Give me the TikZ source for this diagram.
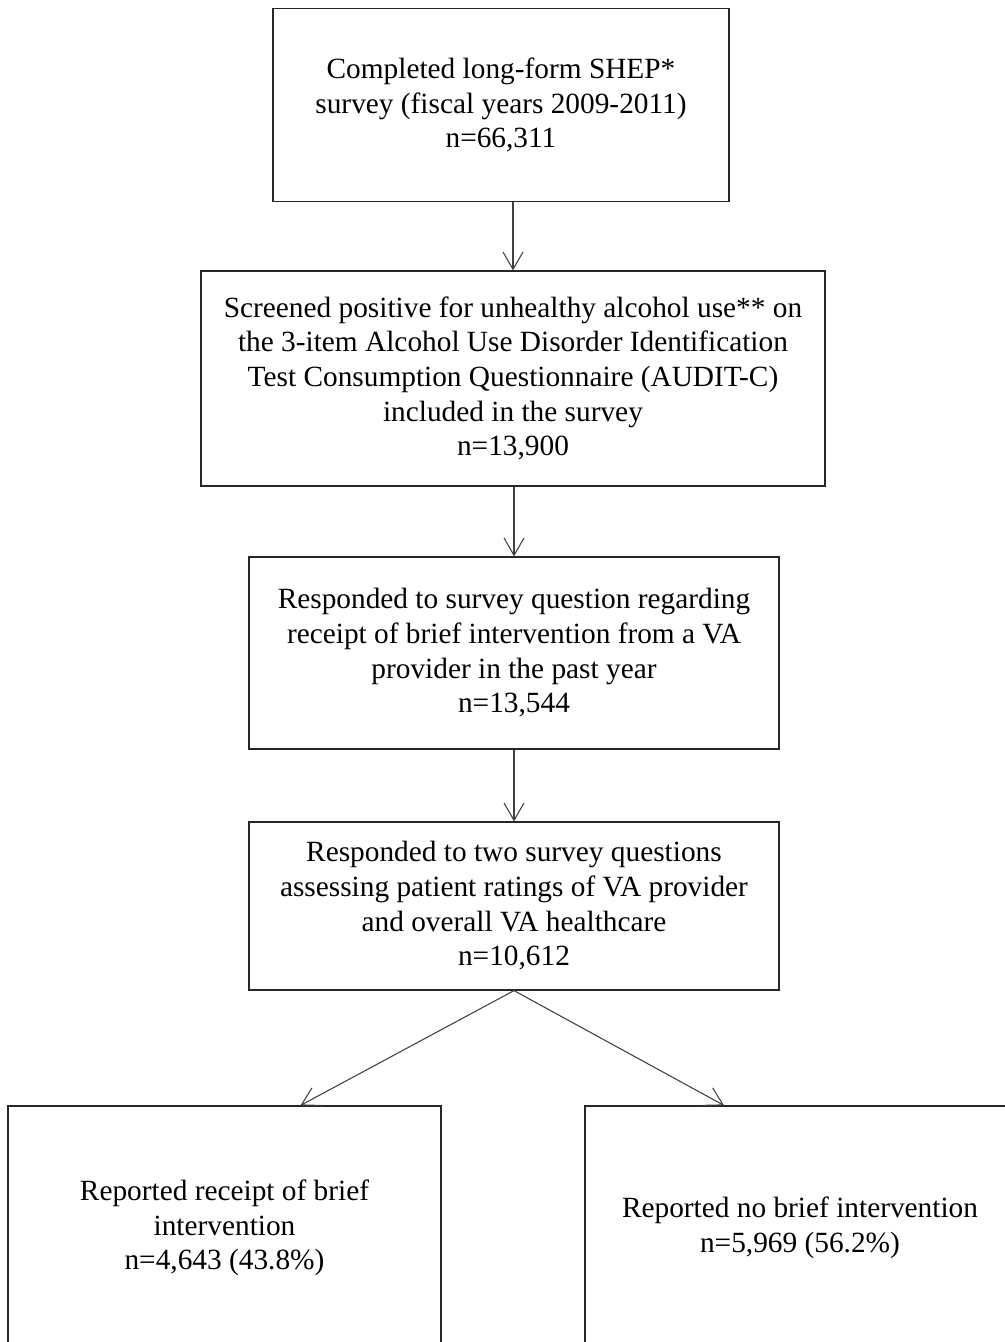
\documentclass[tikz,border=0pt]{standalone}
\usepackage{fontspec}
\setmainfont{Liberation Serif}
\usetikzlibrary{arrows.meta,positioning}

\begin{document}
\begin{tikzpicture}[x=0.75pt,y=-0.75pt,
	stage/.style={draw=black!85,line width=0.9pt,align=center,inner sep=0pt,font=\fontsize{22}{26}\selectfont},
	flow/.style={draw=black!75,line width=0.8pt,-{Straight Barb[length=13pt,width=15pt]}}]
					\useasboundingbox (0,0) rectangle (1004,1342);
					\node[stage,minimum width=342pt,minimum height=144.75pt] (shep) at (501,105) {Completed long-form SHEP*\\survey (fiscal years 2009-2011)\\n=66,311};
					\node[stage,minimum width=468pt,minimum height=161.25pt] (audit) at (513,378.5) {Screened positive for unhealthy alcohol use** on\\the 3-item Alcohol Use Disorder Identification\\Test Consumption Questionnaire (AUDIT-C)\\included in the survey\\n=13,900};
					\node[stage,minimum width=397.5pt,minimum height=144pt] (resp) at (514,653) {Responded to survey question regarding\\receipt of brief intervention from a VA\\provider in the past year\\n=13,544};
					\node[stage,minimum width=397.5pt,minimum height=126pt] (rate) at (514,906) {Responded to two survey questions\\assessing patient ratings of VA provider\\and overall VA healthcare\\n=10,612};
					\node[stage,minimum width=324.75pt,minimum height=183pt] (yesbi) at (224.5,1228) {Reported receipt of brief\\intervention\\n=4,643 (43.8\%)};
					\node[stage,minimum width=322.5pt,minimum height=183pt] (nobi) at (800,1228) {Reported no brief intervention\\n=5,969 (56.2\%)};
					\draw[flow] (shep.south -| audit.north) -- (audit.north);
					\draw[flow] (audit.south -| resp.north) -- (resp.north);
					\draw[flow] (resp.south) -- (rate.north);
					\draw[flow] (rate.south) -- ([xshift=57pt]yesbi.north);
					\draw[flow] (rate.south) -- ([xshift=-57pt]nobi.north);
				\end{tikzpicture}
\end{document}
